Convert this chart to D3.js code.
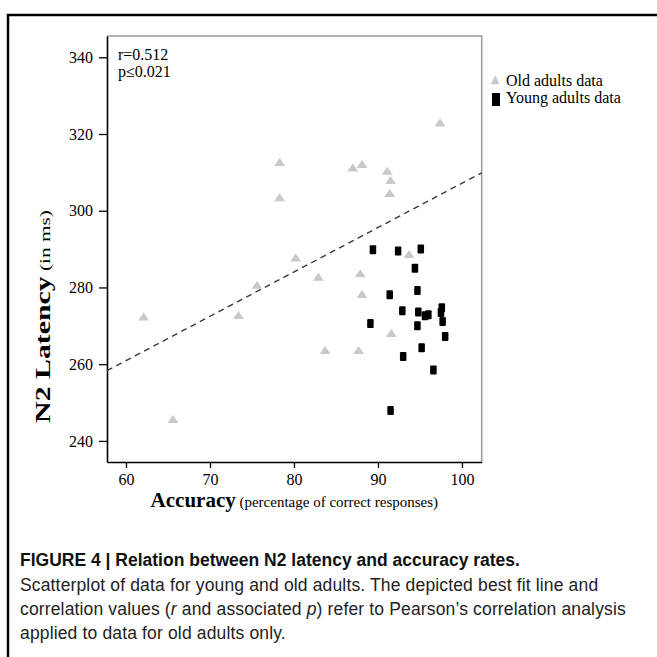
<!DOCTYPE html>
<html>
<head>
<meta charset="utf-8">
<script src="https://d3js.org/d3.v7.min.js"></script>
<style>
  body { margin: 0; background: #fff; }
</style>
</head>
<body>
<div id="n2_scatter"></div>
<script>
// old adults (grey triangles)
var oldAcc = [78.3, 87.0, 88.1, 91.1, 91.5, 91.4, 78.3, 93.7, 80.2, 82.9, 87.9, 75.6, 73.4, 88.1, 91.6, 83.7, 87.7, 97.4, 62.1, 65.6];
var oldLat = [312.7, 311.3, 312.2, 310.4, 308.0, 304.6, 303.5, 288.7, 287.8, 282.8, 283.7, 280.7, 272.8, 278.3, 268.1, 263.7, 263.7, 323.0, 272.4, 245.7];

// young adults (black squares)
var youngAcc = [89.4, 92.4, 95.1, 94.4, 94.7, 91.4, 92.9, 94.8, 95.6, 96.0, 97.6, 97.5, 97.7, 89.1, 94.7, 98.0, 95.2, 93.0, 96.6, 91.5];
var youngLat = [289.8, 289.5, 290.0, 285.0, 279.2, 278.1, 273.9, 273.6, 272.6, 272.9, 274.7, 273.5, 271.1, 270.6, 270.0, 267.2, 264.3, 262.0, 258.5, 247.9];

// best fit line (old adults only), end points
var fitAcc = [57.74, 102.35];
var fitLat = [258.3, 309.9];

var xTicks = [60, 70, 80, 90, 100];
var yTicks = [240, 260, 280, 300, 320, 340];
var statLines = ["r=0.512", "p\u22640.021"];
var legendLabels = ["Old adults data", "Young adults data"];
var captionTitle = "FIGURE 4 | Relation between N2 latency and accuracy rates.";
// words between underscores are set in italics
var captionLines = [
  "Scatterplot of data for young and old adults. The depicted best fit line and",
  "correlation values (_r_ and associated _p_) refer to Pearson\u2019s correlation analysis",
  "applied to data for old adults only."
];

var serif = "'Liberation Serif', 'Times New Roman', serif",
    sans = "'Liberation Sans', Arial, Helvetica, sans-serif";

// set the dimensions and margins of the graph
var margin = {top: 36, right: 175.3, bottom: 195, left: 107},
    width = 657 - margin.left - margin.right,
    height = 657 - margin.top - margin.bottom;

var root = d3.select("#n2_scatter")
  .append("svg")
    .attr("width", 657)
    .attr("height", 657);

// outer figure frame (top + left only)
root.append("path")
  .attr("d", "M8,657 V15 H657")
  .attr("fill", "none")
  .attr("stroke", "#000")
  .attr("stroke-width", 2.5);

var svg = root.append("g")
  .attr("transform", "translate(" + margin.left + "," + margin.top + ")");

var x = d3.scaleLinear()
  .domain([57.74, 102.35])
  .range([0, width]);

var y = d3.scaleLinear()
  .domain([234.5, 345.55])
  .range([height, 0]);

// grey top / right border
svg.append("path")
  .attr("d", "M0,0 H" + width + " V" + height)
  .attr("fill", "none")
  .attr("stroke", "#9a9a9a")
  .attr("stroke-width", 1.5);

// X axis
var xAxis = svg.append("g")
  .attr("transform", "translate(0," + height + ")")
  .call(d3.axisBottom(x).tickValues(xTicks).tickSize(6).tickSizeOuter(0).tickPadding(6));

// Y axis
var yAxis = svg.append("g")
  .call(d3.axisLeft(y).tickValues(yTicks).tickSize(8).tickSizeOuter(0).tickPadding(6));

[xAxis, yAxis].forEach(function(a) {
  a.select(".domain").attr("stroke", "#000").attr("stroke-width", 1.6);
  a.selectAll(".tick line").attr("stroke", "#000").attr("stroke-width", 1.3);
  a.selectAll(".tick text")
    .style("font-family", serif)
    .style("font-size", "16px")
    .attr("fill", "#000");
});

// fit line
svg.append("line")
  .attr("x1", x(fitAcc[0]))
  .attr("y1", y(fitLat[0]))
  .attr("x2", x(fitAcc[1]))
  .attr("y2", y(fitLat[1]))
  .attr("stroke", "#3a3a3a")
  .attr("stroke-width", 1.4)
  .attr("stroke-dasharray", "6,4.5");

// old adults triangles
svg.selectAll("tri")
  .data(oldAcc)
  .enter()
  .append("path")
    .attr("d", "M0,-4 L5.5,4 L-5.5,4 Z")
    .attr("transform", function(d, i) { return "translate(" + x(d) + "," + y(oldLat[i]) + ")"; })
    .attr("fill", "#c9c9c9");

// young adults squares
svg.selectAll("sq")
  .data(youngAcc)
  .enter()
  .append("rect")
    .attr("x", function(d) { return x(d) - 3.25; })
    .attr("y", function(d, i) { return y(youngLat[i]) - 4.5; })
    .attr("width", 6.5)
    .attr("height", 9)
    .attr("rx", 1)
    .attr("fill", "#000");

// r / p text
svg.selectAll("stat")
  .data(statLines)
  .enter()
  .append("text")
    .attr("x", 11)
    .attr("y", function(d, i) { return 24 + i * 17; })
    .style("font-family", serif)
    .style("font-size", "16px")
    .text(function(d) { return d; });

// legend
root.append("path")
  .attr("d", "M491,84.3 L499.3,84.3 L495.2,75 Z")
  .attr("fill", "#c9c9c9");
root.append("rect")
  .attr("x", 492).attr("y", 93)
  .attr("width", 8).attr("height", 13)
  .attr("fill", "#000");
root.selectAll("leg")
  .data(legendLabels)
  .enter()
  .append("text")
    .attr("x", 506)
    .attr("y", function(d, i) { return 85.5 + i * 17.5; })
    .style("font-family", serif)
    .style("font-size", "16px")
    .text(function(d) { return d; });

// x axis title
var xt = root.append("text")
  .attr("x", margin.left + width / 2)
  .attr("y", 507)
  .attr("text-anchor", "middle")
  .style("font-family", serif);
xt.append("tspan").style("font-size", "21px").style("font-weight", "bold").text("Accuracy");
xt.append("tspan").style("font-size", "15px").text(" (percentage of correct responses)");

// y axis title (stretched along its length like the original)
var yt = root.append("text")
  .attr("text-anchor", "middle")
  .style("font-family", serif);
yt.append("tspan").style("font-size", "21px").style("font-weight", "bold").text("N2 Latency");
yt.append("tspan").style("font-size", "15px").text(" (in ms)");
var natural = yt.node().getComputedTextLength();
yt.attr("transform", "translate(50,316.5) rotate(-90) scale(" + (213 / natural) + ",1)");

// caption
root.append("text")
  .attr("x", 20)
  .attr("y", 566)
  .style("font-family", sans)
  .style("font-size", "17.5px")
  .style("font-weight", "bold")
  .attr("fill", "#111")
  .text(captionTitle);

var cap = root.selectAll("cap")
  .data(captionLines)
  .enter()
  .append("text")
    .attr("x", 20)
    .attr("y", function(d, i) { return 591 + i * 24; })
    .style("font-family", sans)
    .style("font-size", "17.5px")
    .style("letter-spacing", "0.15px")
    .attr("fill", "#222");

cap.each(function(d) {
  var t = d3.select(this);
  d.split("_").forEach(function(part, k) {
    t.append("tspan")
      .style("font-style", k % 2 ? "italic" : "normal")
      .text(part);
  });
});
</script>
</body>
</html>
